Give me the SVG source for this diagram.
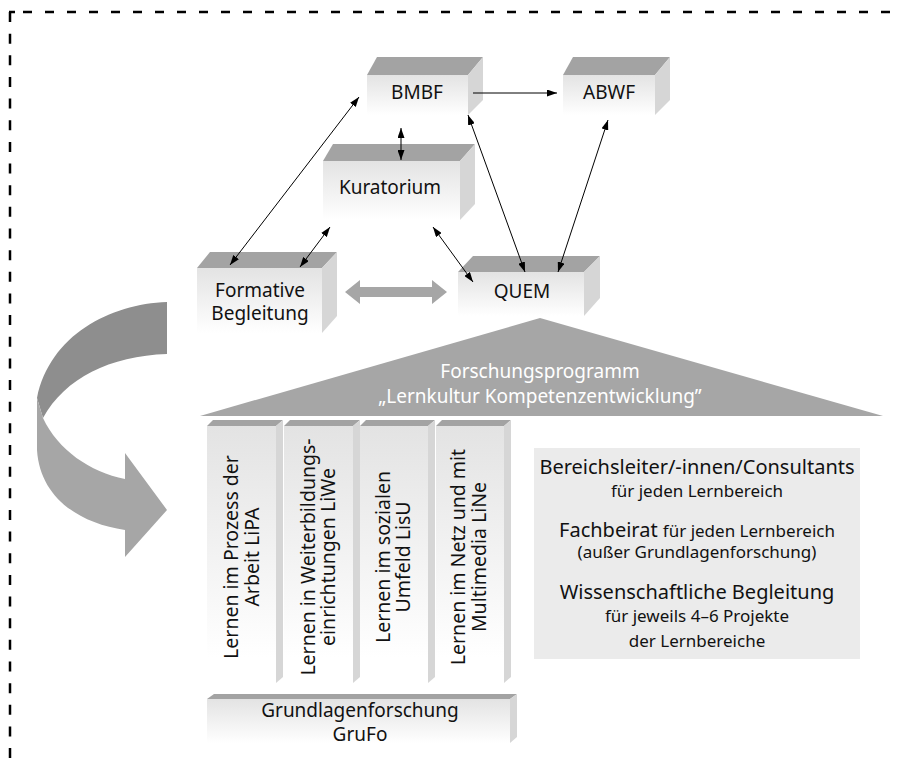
<svg xmlns="http://www.w3.org/2000/svg" width="901" height="766" viewBox="0 0 901 766">
<defs>
<linearGradient id="gf" x1="0" y1="0" x2="0" y2="1">
<stop offset="0" stop-color="#e3e3e3"/>
<stop offset="1" stop-color="#ffffff"/>
</linearGradient>
<linearGradient id="gp" x1="0" y1="0" x2="0" y2="1">
<stop offset="0" stop-color="#e3e3e3"/>
<stop offset="0.9" stop-color="#ffffff"/>
</linearGradient>
<marker id="ah" markerWidth="10" markerHeight="7" refX="10" refY="3.5" orient="auto-start-reverse" markerUnits="userSpaceOnUse">
<path d="M0,0 L10,3.5 L0,7 z" fill="#000"/>
</marker>
<style>
.front{fill:url(#gf);}
.pfront{fill:url(#gp);}
.top{fill:#a3a3a3;}
.side{fill:#d6d6d6;}
.t{font-family:"Noto Sans","Open Sans","Liberation Sans",sans-serif;font-size:19px;fill:#111;text-anchor:middle;}
.p{font-size:19.5px;}
.l{font-size:20px;}
.s{font-size:17px;}
.w{fill:#fff;}
.c{stroke:#000;stroke-width:1;fill:none;marker-start:url(#ah);marker-end:url(#ah);}
.b{stroke:#000;stroke-width:2.5;fill:none;}
</style>
</defs>
<rect width="901" height="766" fill="#fff"/>

<g id="border">
<path class="b" d="M10,12 V766" stroke-dasharray="10 11.65"/>
<path class="b" d="M10,12 H901" stroke-dasharray="9 13" stroke-dashoffset="9"/>
<path class="b" d="M9,12 H15"/>
</g>

<g id="curved-arrow">
<path d="M167,302 C110,304 50,335 37,398 L43,418 C65,378 110,356 167,354 Z" fill="#8e8e8e"/>
<path d="M37,398 L37,450 C40,497 78,523 125,530 L125,557 L167,510 L125,453 L125,479 C90,472 58,450 43,418 Z" fill="#a6a6a6"/>
</g>

<g id="bmbf">
<polygon class="top" points="367,75 377,57 483,57 468,75"/>
<polygon class="side" points="468,75 483,57 483,100 468,115"/>
<rect class="front" x="367" y="75" width="101" height="40"/>
<text class="t" x="417" y="99">BMBF</text>
</g>

<g id="abwf">
<polygon class="top" points="563,75 573,57 670,57 655,75"/>
<polygon class="side" points="655,75 670,57 670,100 655,115"/>
<rect class="front" x="563" y="75" width="92" height="40"/>
<text class="t" x="609" y="99">ABWF</text>
</g>

<g id="kuratorium">
<polygon class="top" points="323,161 333,144 475,144 460,161"/>
<polygon class="side" points="460,161 475,144 475,204 460,220"/>
<rect class="front" x="323" y="161" width="137" height="59"/>
<text class="t" x="390" y="194">Kuratorium</text>
</g>

<g id="formative">
<polygon class="top" points="197,268 210,252 337,252 322,268"/>
<polygon class="side" points="322,268 337,252 337,316 322,333"/>
<rect class="front" x="197" y="268" width="125" height="65"/>
<text class="t" x="260" y="297">Formative</text>
<text class="t" x="260" y="320">Begleitung</text>
</g>

<g id="quem">
<polygon class="top" points="458,272 473,256 600,256 584,272"/>
<polygon class="side" points="584,272 600,256 600,298 584,316"/>
<rect class="front" x="458" y="272" width="126" height="44"/>
<text class="t" x="522" y="298">QUEM</text>
</g>

<g id="roof">
<polygon points="200,416 540,318 883,416" fill="#a6a6a6"/>
<text class="t w" x="540" y="378">Forschungsprogramm</text>
<text class="t w" x="540" y="403">„Lernkultur Kompetenzentwicklung”</text>
</g>

<g id="lipa">
<polygon class="top" points="207,426 213,420 283,420 276,426"/>
<polygon class="side" points="276,426 283,420 283,677 276,683"/>
<rect class="pfront" x="207" y="426" width="69" height="257"/>
<text class="t p" transform="translate(238,557) rotate(-90)">Lernen im Prozess der</text>
<text class="t p" transform="translate(259,557) rotate(-90)">Arbeit LiPA</text>
</g>

<g id="liwe">
<polygon class="top" points="284,426 290,420 360,420 353,426"/>
<polygon class="side" points="353,426 360,420 360,677 353,683"/>
<rect class="pfront" x="284" y="426" width="69" height="257"/>
<text class="t p" transform="translate(315,557) rotate(-90)">Lernen in Weiterbildungs-</text>
<text class="t p" transform="translate(335,557) rotate(-90)">einrichtungen LiWe</text>
</g>

<g id="lisu">
<polygon class="top" points="360,426 366,420 435,420 428,426"/>
<polygon class="side" points="428,426 435,420 435,677 428,683"/>
<rect class="pfront" x="360" y="426" width="68" height="257"/>
<text class="t p" transform="translate(390,557) rotate(-90)">Lernen im sozialen</text>
<text class="t p" transform="translate(410,557) rotate(-90)">Umfeld LisU</text>
</g>

<g id="line">
<polygon class="top" points="436,426 442,420 511,420 504,426"/>
<polygon class="side" points="504,426 511,420 511,677 504,683"/>
<rect class="pfront" x="436" y="426" width="68" height="257"/>
<text class="t p" transform="translate(465,557) rotate(-90)">Lernen im Netz und mit</text>
<text class="t p" transform="translate(486,557) rotate(-90)">Multimedia LiNe</text>
</g>

<g id="grufo">
<polygon class="top" points="207,699 214,694 517,694 510,699"/>
<polygon class="side" points="510,699 517,694 517,737 510,743"/>
<rect class="front" x="207" y="699" width="303" height="44"/>
<text class="t" x="360" y="717">Grundlagenforschung</text>
<text class="t" x="360" y="741">GruFo</text>
</g>

<g id="info">
<rect x="534" y="448" width="326" height="211" fill="#ebebeb"/>
<text class="t l" x="697" y="474">Bereichsleiter/-innen/Consultants</text>
<text class="t s" x="697" y="497">für jeden Lernbereich</text>
<text class="t l" x="697" y="537">Fachbeirat <tspan class="s">für jeden Lernbereich</tspan></text>
<text class="t s" x="697" y="558">(außer Grundlagenforschung)</text>
<text class="t l" x="697" y="599">Wissenschaftliche Begleitung</text>
<text class="t s" x="697" y="622">für jeweils 4–6 Projekte</text>
<text class="t s" x="697" y="647">der Lernbereiche</text>
</g>

<g id="connectors">
<line x1="473" y1="93" x2="557" y2="93" stroke="#000" stroke-width="1" marker-end="url(#ah)"/>
<line class="c" x1="230" y1="265" x2="359" y2="97"/>
<line class="c" x1="401" y1="128" x2="401" y2="160"/>
<line class="c" x1="300" y1="267" x2="330" y2="227"/>
<line class="c" x1="433" y1="227" x2="473" y2="282"/>
<line class="c" x1="468" y1="115" x2="525" y2="272"/>
<line class="c" x1="608" y1="120" x2="558" y2="272"/>
<polygon points="345,292 360,280 360,287 432,287 432,280 447,292 432,304 432,297 360,297 360,304" fill="#a6a6a6"/>
</g>
</svg>
